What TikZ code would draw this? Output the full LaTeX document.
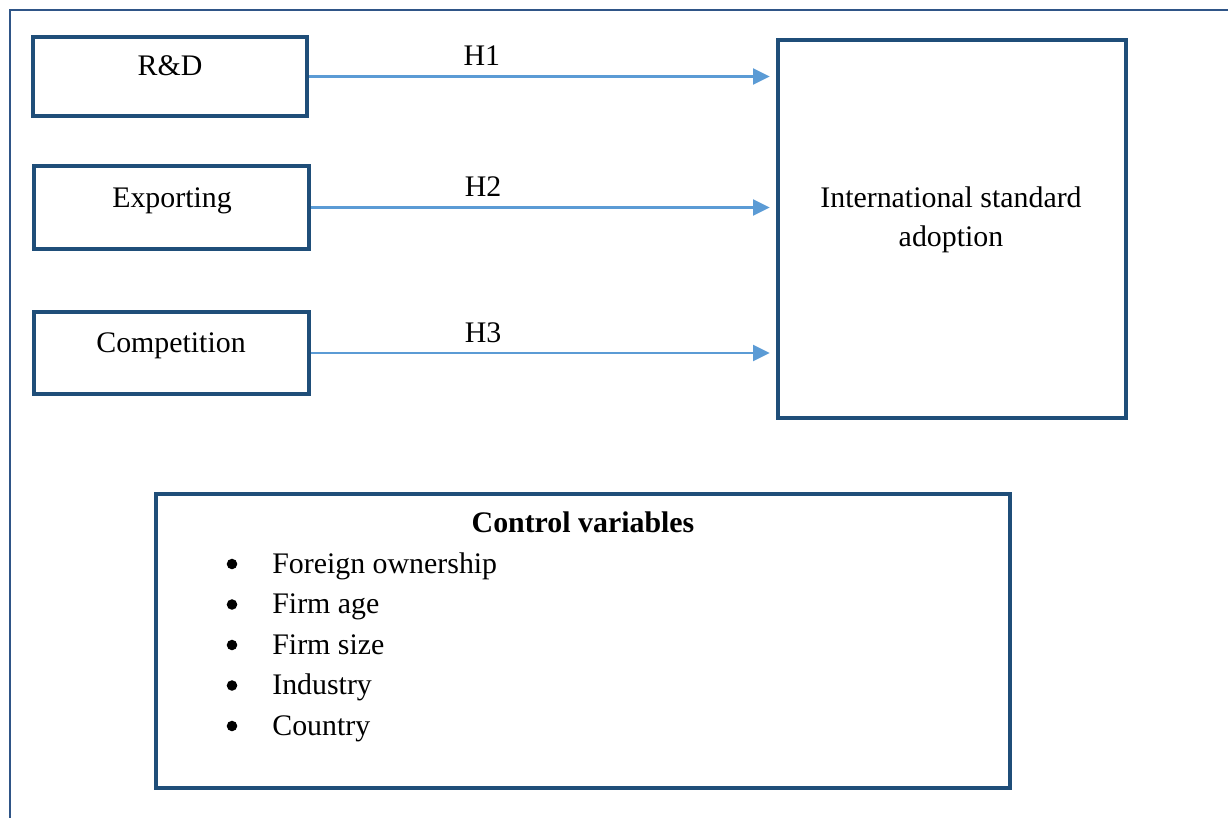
\documentclass[tikz,border=0pt]{standalone}
\usepackage{fontspec}
\setmainfont{Liberation Serif}
\usetikzlibrary{arrows.meta}

\definecolor{boxblue}{RGB}{31,78,121}
\definecolor{arrowblue}{RGB}{91,155,213}
\definecolor{frameblue}{RGB}{47,85,135}

\tikzset{
  varbox/.style = {draw = boxblue, line width = 2.5pt, inner sep = 0pt},
  hyparrow/.style = {-{Triangle[length = 9.5pt, width = 9pt]}, draw = arrowblue, fill = arrowblue, line width = 1.5pt, shorten > = 3.4pt},
  dot/.style = {circle, fill = black, inner sep = 0pt, minimum size = 6pt},
}

\begin{document}
\begin{tikzpicture}[x = 0.02cm, y = -0.02cm, font = \fontsize{17}{22}\selectfont]
  \useasboundingbox (0, 0) rectangle (1228, 818);
  \draw [frameblue, line width = 0.9pt] (10, 830) -- (10, 10) -- (1240, 10);

  % boxes
  \node [varbox, minimum width = 5.48cm, minimum height = 1.58cm] (rd) at (170, 76.5) {};
  \node [varbox, minimum width = 5.5cm, minimum height = 1.66cm] (exporting) at (171.5, 207.5) {};
  \node [varbox, minimum width = 5.5cm, minimum height = 1.64cm] (competition) at (171.5, 353) {};
  \node [varbox, minimum width = 6.96cm, minimum height = 7.56cm] (isa) at (952, 229) {};
  \node [varbox, minimum width = 17.08cm, minimum height = 5.88cm] (control) at (583, 641) {};

  \node [anchor = base] (rdtext) at (170, 75) {R\&D};
  \node [anchor = base] (exportingtext) at (172, 207) {Exporting};
  \node [anchor = base] (competitiontext) at (171, 352) {Competition};
  \node [align = center] (isatext) at (951, 220) {International standard\\adoption};

  % hypotheses
  \draw [hyparrow] (rd.east) -- (rd.east -| isa.west) node [pos = 0.37, above = 2pt, fill = none, text = black] {H1};
  \draw [hyparrow] (exporting.east) -- (exporting.east -| isa.west) node [pos = 0.37, above = 2pt, fill = none, text = black] {H2};
  \draw [hyparrow] (competition.east) -- (competition.east -| isa.west) node [pos = 0.37, above = 2pt, fill = none, text = black] {H3};

  % controls
  \node [anchor = base, font = \fontsize{17}{22}\selectfont\bfseries] (controltitle) at (583, 532) {Control variables};
  \node [dot] (dot1) at (232, 564) {};
  \node [dot] (dot2) at (232, 604.5) {};
  \node [dot] (dot3) at (232, 645) {};
  \node [dot] (dot4) at (232, 685.5) {};
  \node [dot] (dot5) at (232, 726) {};
  \node [anchor = base west, inner sep = 0pt] (foreign) at (272, 573) {Foreign ownership};
  \node [anchor = base west, inner sep = 0pt] (age) at (272, 613.5) {Firm age};
  \node [anchor = base west, inner sep = 0pt] (size) at (272, 654) {Firm size};
  \node [anchor = base west, inner sep = 0pt] (industry) at (272, 694.5) {Industry};
  \node [anchor = base west, inner sep = 0pt] (country) at (272, 735) {Country};
\end{tikzpicture}
\end{document}
